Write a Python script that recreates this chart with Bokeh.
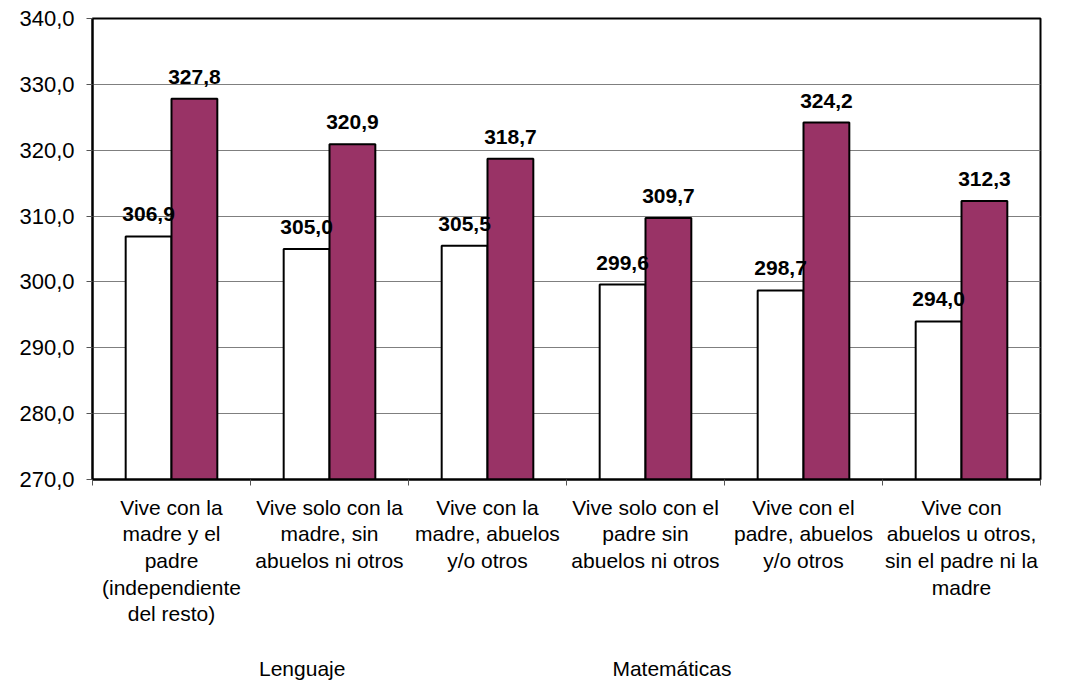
from bokeh.plotting import figure
from bokeh.models import (ColumnDataSource, LabelSet, FixedTicker, Range1d,
                          Legend, LegendItem)
from bokeh.layouts import column
from bokeh.core.properties import value
from bokeh.embed import file_html
from bokeh.resources import INLINE

categories = [
    "Vive con la\nmadre y el\npadre\n(independiente\ndel resto)",
    "Vive solo con la\nmadre, sin\nabuelos ni otros",
    "Vive con la\nmadre, abuelos\ny/o otros",
    "Vive solo con el\npadre sin\nabuelos ni otros",
    "Vive con el\npadre, abuelos\ny/o otros",
    "Vive con\nabuelos u otros,\nsin el padre ni la\nmadre",
]
lenguaje = [306.9, 305.0, 305.5, 299.6, 298.7, 294.0]
matematicas = [327.8, 320.9, 318.7, 309.7, 324.2, 312.3]
y_ticks = [270, 280, 290, 300, 310, 320, 330, 340]
series_names = ["Lenguaje", "Matemáticas"]

FONT = "Liberation Sans"
MAROON = "#993366"
BW = 0.29

n = len(categories)
centers = [i + 0.5 for i in range(n)]
fmt = lambda v: f"{v:.1f}".replace(".", ",")

src_l = ColumnDataSource(dict(x=[c - BW / 2 for c in centers], top=lenguaje,
                              lab=[fmt(v) for v in lenguaje]))
src_m = ColumnDataSource(dict(x=[c + BW / 2 for c in centers], top=matematicas,
                              lab=[fmt(v) for v in matematicas]))

p = figure(frame_width=948, frame_height=461, output_backend="svg",
           toolbar_location=None,
           x_range=Range1d(0, n), y_range=Range1d(y_ticks[0], y_ticks[-1]))
p.min_border_left = 92
p.min_border_right = 27
p.min_border_top = 18
p.min_border_bottom = 0
p.background_fill_color = "white"
p.border_fill_color = "white"
p.outline_line_color = "black"
p.outline_line_width = 2

p.vbar(x="x", top="top", bottom=y_ticks[0], width=BW, source=src_l,
       fill_color="white", line_color="black", line_width=2)
p.vbar(x="x", top="top", bottom=y_ticks[0], width=BW, source=src_m,
       fill_color=MAROON, line_color="black", line_width=2)

# y axis
p.yaxis.ticker = FixedTicker(ticks=y_ticks)
p.yaxis.major_label_overrides = {t: fmt(t) for t in y_ticks}
p.yaxis.major_label_text_font = FONT
p.yaxis.major_label_text_font_size = "22px"
p.yaxis.major_label_text_color = "black"
p.yaxis.major_label_standoff = 12
p.yaxis.major_tick_in = 0
p.yaxis.major_tick_out = 6
p.yaxis.minor_tick_line_color = None
p.yaxis.axis_line_color = "black"
p.yaxis.axis_line_width = 2
p.yaxis.major_tick_line_color = "#555555"

# x axis: labels at category centres, tick marks at boundaries (minor ticks)
p.xaxis.ticker = FixedTicker(ticks=centers, minor_ticks=list(range(n + 1)))
p.xaxis.major_label_overrides = {c: lab for c, lab in zip(centers, categories)}
p.xaxis.major_label_text_font = FONT
p.xaxis.major_label_text_font_size = "21px"
p.xaxis.major_label_text_line_height = 1.16
p.xaxis.major_label_text_color = "black"
p.xaxis.major_label_standoff = 10
p.xaxis.major_tick_line_color = None
p.xaxis.major_tick_in = 0
p.xaxis.major_tick_out = 0
p.xaxis.minor_tick_in = 0
p.xaxis.minor_tick_out = 6
p.xaxis.minor_tick_line_color = "#555555"
p.xaxis.axis_line_color = "black"
p.xaxis.axis_line_width = 2

p.xgrid.grid_line_color = None
p.ygrid.ticker = FixedTicker(ticks=y_ticks)
p.ygrid.grid_line_color = "#7f7f7f"
p.ygrid.grid_line_width = 1

# data labels
for src in (src_l, src_m):
    p.add_layout(LabelSet(x="x", y="top", text="lab", source=src,
                          text_align="center", text_baseline="bottom",
                          y_offset=15, text_font=value(FONT),
                          text_font_size=value("21px"),
                          text_font_style=value("bold"),
                          text_color=value("black")))

# legend strip underneath the chart
p2 = figure(width=1067, height=56, output_backend="svg", toolbar_location=None,
            x_range=Range1d(0, 1), y_range=Range1d(0, 1),
            x_axis_location=None, y_axis_location=None)
p2.min_border = 0
p2.min_border_left = 0
p2.min_border_right = 0
p2.min_border_top = 0
p2.min_border_bottom = 0
p2.outline_line_color = None
p2.background_fill_color = "white"
p2.border_fill_color = "white"
p2.xgrid.grid_line_color = None
p2.ygrid.grid_line_color = None
e_l = p2.vbar(x=[], top=[], width=0.1, fill_color="white",
              line_color="black", line_width=2)
e_m = p2.vbar(x=[], top=[], width=0.1, fill_color=MAROON,
              line_color="black", line_width=2)

legend = Legend(items=[LegendItem(label=series_names[0], renderers=[e_l]),
                       LegendItem(label=series_names[1], renderers=[e_m])],
                orientation="horizontal", location=(150, 3),
                spacing=250, glyph_width=15, glyph_height=15,
                label_standoff=2, label_text_font=FONT,
                label_text_color="black",
                label_text_font_size="21px", background_fill_alpha=0,
                border_line_color=None, padding=0, margin=0)
p2.add_layout(legend, "center")

open("out.html", "w").write(file_html(column(p, p2), INLINE))
